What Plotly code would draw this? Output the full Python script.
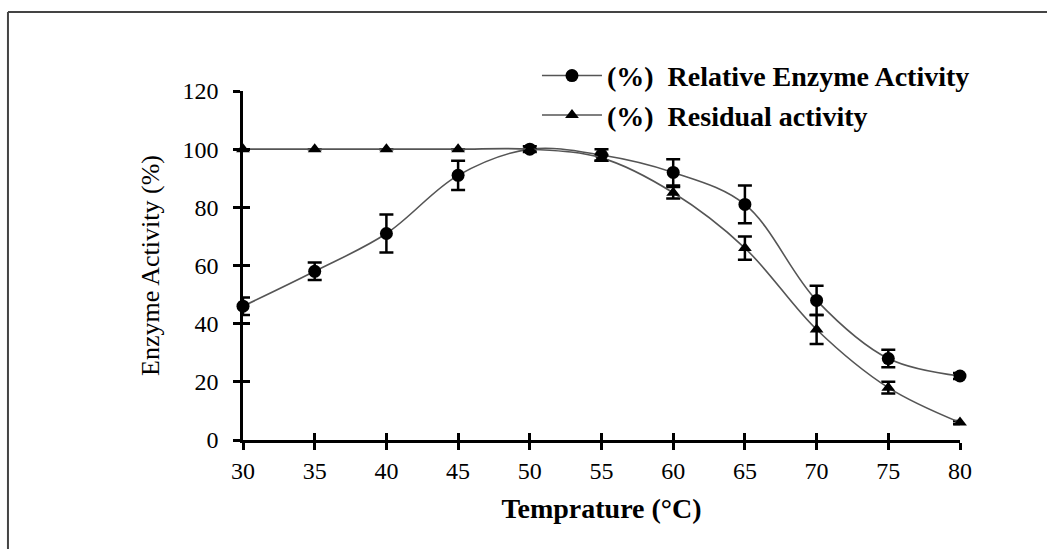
import plotly.graph_objects as go

# Temperature profile of the enzyme
temperature = [30, 35, 40, 45, 50, 55, 60, 65, 70, 75, 80]
relative_activity = [46, 58, 71, 91, 100, 98, 92, 81, 48, 28, 22]
relative_err = [3, 3, 6.5, 5, 1, 2, 4.5, 6.5, 5, 3, 1]
residual_activity = [100, 100, 100, 100, 100, 97, 85, 66, 38, 18, 6]
residual_err = [0, 0, 0, 0, 0, 1, 2, 4, 5, 2, 0.5]

y_ticks = [0, 20, 40, 60, 80, 100, 120]
x_ticks = [30, 35, 40, 45, 50, 55, 60, 65, 70, 75, 80]

serif = "Liberation Serif, Times New Roman, serif"
line_col = "#555555"

fig = go.Figure()

fig.add_trace(go.Scatter(
    x=temperature, y=relative_activity,
    mode="lines+markers",
    name="(%)  Relative Enzyme Activity",
    line=dict(color=line_col, width=1.6, shape="spline"),
    marker=dict(symbol="circle", size=13, color="black"),
    error_y=dict(type="data", array=relative_err, visible=True,
                 color="black", thickness=2.5, width=7),
    cliponaxis=False,
    legendgroup="a",
))

fig.add_trace(go.Scatter(
    x=temperature, y=residual_activity,
    mode="lines+markers",
    name="(%)  Residual activity",
    line=dict(color=line_col, width=1.6, shape="spline"),
    marker=dict(symbol="triangle-up", size=12, color="black"),
    error_y=dict(type="data", array=residual_err, visible=True,
                 color="black", thickness=2.5, width=7),
    cliponaxis=False,
    legendgroup="b",
))

# invisible trace to carry the overlay axes (inner half of crossing ticks)
fig.add_trace(go.Scatter(x=[temperature[0]], y=[y_ticks[0]], xaxis="x2", yaxis="y2",
                         mode="markers", marker=dict(opacity=0), showlegend=False,
                         hoverinfo="skip"))

axis_common = dict(showgrid=False, zeroline=False, showline=True,
                   linecolor="black", linewidth=2.5, ticks="outside",
                   ticklen=7, tickwidth=2.5, tickcolor="black",
                   tickfont=dict(family=serif, size=24, color="black"))

fig.update_layout(
    width=1047, height=549,
    margin=dict(l=243, r=87, t=91, b=109),
    paper_bgcolor="white", plot_bgcolor="white",
    font=dict(family=serif, color="black"),
    xaxis=dict(range=[30, 80], tickvals=x_ticks, **axis_common,
               ticklabelstandoff=0,
               title=dict(text="<b>Temprature (°C)</b>",
                          font=dict(family=serif, size=28), standoff=16)),
    yaxis=dict(range=[0, 120], tickvals=y_ticks, **axis_common,
               ticklabelstandoff=10,
               title=dict(text="Enzyme Activity (%)",
                          font=dict(family=serif, size=26), standoff=16)),
    xaxis2=dict(range=[30, 80], tickvals=x_ticks, overlaying="x", side="bottom",
                showgrid=False, zeroline=False, showline=False, showticklabels=False,
                ticks="inside", ticklen=7, tickwidth=2.5, tickcolor="black"),
    yaxis2=dict(range=[0, 120], tickvals=y_ticks, overlaying="y", side="left",
                showgrid=False, zeroline=False, showline=False, showticklabels=False,
                ticks="inside", ticklen=7, tickwidth=2.5, tickcolor="black"),
    legend=dict(x=0.41, y=1.115, xanchor="left", yanchor="top",
                bgcolor="rgba(0,0,0,0)", traceorder="grouped",
                tracegroupgap=0, itemwidth=60,
                font=dict(family=serif, size=28, color="black", weight="bold")),
    showlegend=True,
)

# frame around the figure (left and top edges)
frame_col = "#444444"
fig.add_shape(type="line", xref="paper", yref="paper",
              x0=-0.3278, x1=1.2, y0=1.2264, y1=1.2264,
              line=dict(color=frame_col, width=2))
fig.add_shape(type="line", xref="paper", yref="paper",
              x0=-0.3278, x1=-0.3278, y0=1.2264, y1=-0.35,
              line=dict(color=frame_col, width=2))

fig.write_html("out.html")
